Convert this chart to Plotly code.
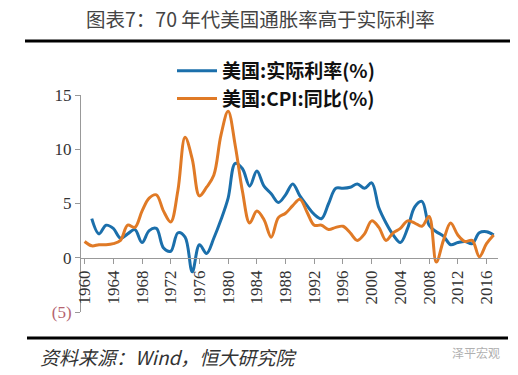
import plotly.graph_objects as go

years = list(range(1960, 2018))

cpi_yoy = [1.5, 1.1, 1.2, 1.2, 1.3, 1.6, 3.0, 2.8, 4.3, 5.5,
           5.8, 4.3, 3.3, 6.2, 11.1, 9.1, 5.7, 6.5, 7.6, 11.3,
           13.5, 10.3, 6.1, 3.2, 4.3, 3.5, 1.9, 3.7, 4.1, 4.8,
           5.4, 4.2, 3.0, 3.0, 2.6, 2.8, 2.9, 2.3, 1.6, 2.2,
           3.4, 2.8, 1.6, 2.3, 2.7, 3.4, 3.2, 2.9, 3.8, -0.4,
           1.6, 3.2, 2.1, 1.5, 1.6, 0.1, 1.3, 2.1]

real_rate_years = list(range(1961, 2018))
real_rate = [3.6, 2.2, 3.0, 2.7, 1.8, 2.2, 2.6, 1.4, 2.5, 2.7,
             0.9, 0.6, 2.3, 1.9, -1.3, 1.2, 0.4, 1.8, 3.5, 5.5,
             8.7, 8.2, 6.6, 8.0, 6.6, 5.9, 5.1, 5.8, 6.8, 5.7,
             4.8, 4.0, 3.6, 5.0, 6.4, 6.4, 6.5, 6.8, 6.4, 6.9,
             4.6, 3.2, 2.1, 1.4, 2.7, 4.7, 5.2, 3.0, 2.4, 2.0,
             1.2, 1.4, 1.5, 1.3, 2.3, 2.4, 2.1]

tick_years = list(range(1960, 2017, 4))
tick_labels = [str(y) for y in tick_years]
y_ticks = [-5, 0, 5, 10, 15]
y_tick_labels = ["<span style='color:#b5636f'>(5)</span>", "0", "5", "10", "15"]

title_text = "图表7：70 年代美国通胀率高于实际利率"
source_text = "资料来源：Wind，恒大研究院"
watermark_text = "泽平宏观"
name_real = "<b>美国:实际利率(%)</b>"
name_cpi = "<b>美国:CPI:同比(%)</b>"

BLUE = "#1b6fab"
ORANGE = "#e07a26"

fig = go.Figure()
fig.add_trace(go.Scatter(x=real_rate_years, y=real_rate, mode="lines", name=name_real,
                         legendgroup="a",
                         line=dict(color=BLUE, width=3, shape="spline", smoothing=1.0)))
fig.add_trace(go.Scatter(x=years, y=cpi_yoy, mode="lines", name=name_cpi,
                         legendgroup="b",
                         line=dict(color=ORANGE, width=3, shape="spline", smoothing=1.0)))

W, H = 518, 375
L, R, T, B = 81, 20, 95, 63
pw, ph = W - L - R, H - T - B

def px(x):
    return (x - L) / pw

def py(y):
    return (H - B - y) / ph

fig.update_layout(
    width=W, height=H,
    margin=dict(l=L, r=R, t=T, b=B),
    paper_bgcolor="white", plot_bgcolor="white",
    showlegend=True,
    legend=dict(x=px(172), y=py(52), xanchor="left", yanchor="top",
                font=dict(family="Noto Sans CJK SC", size=19, color="#111"),
                bgcolor="rgba(0,0,0,0)", tracegroupgap=0, itemwidth=40),
    xaxis=dict(range=[1959.5, 2017.6], anchor="free", position=0.25,
               tickvals=tick_years, ticktext=tick_labels, tickangle=-90,
               showgrid=False, zeroline=False, showline=True, linecolor="#999",
               linewidth=1, ticks="outside", ticklen=5, tickcolor="#999",
               tickfont=dict(family="Liberation Serif", size=17, color="#333")),
    yaxis=dict(range=[-5, 15], tickvals=y_ticks, ticktext=y_tick_labels,
               showgrid=False, zeroline=False, showline=True, linecolor="#999",
               linewidth=1, ticks="outside", ticklen=5, tickcolor="#999",
               tickfont=dict(family="Liberation Serif", size=17, color="#333")),
)

fig.add_shape(type="line", xref="paper", yref="paper", x0=px(25), x1=px(510), y0=py(41), y1=py(41),
              line=dict(color="black", width=3))
fig.add_shape(type="line", xref="paper", yref="paper", x0=px(27), x1=px(508), y0=py(338), y1=py(338),
              line=dict(color="black", width=3))

fig.add_annotation(text=title_text, xref="paper", yref="paper", x=px(260), y=py(18),
                   xanchor="center", yanchor="middle", showarrow=False,
                   font=dict(family="Noto Sans CJK SC", size=19.5, color="#444"))
fig.add_annotation(text="<i>" + source_text + "</i>", xref="paper", yref="paper", x=px(38), y=py(356),
                   xanchor="left", yanchor="middle", showarrow=False,
                   font=dict(family="Noto Sans CJK SC", size=19, color="#333"))
fig.add_annotation(text=watermark_text, xref="paper", yref="paper", x=px(502), y=py(352),
                   xanchor="right", yanchor="middle", showarrow=False,
                   font=dict(family="Noto Sans CJK SC", size=12, color="#b0b0b0"))

fig.write_html("out.html", post_script="document.body.style.margin='0';",
               config={"displayModeBar": False})
